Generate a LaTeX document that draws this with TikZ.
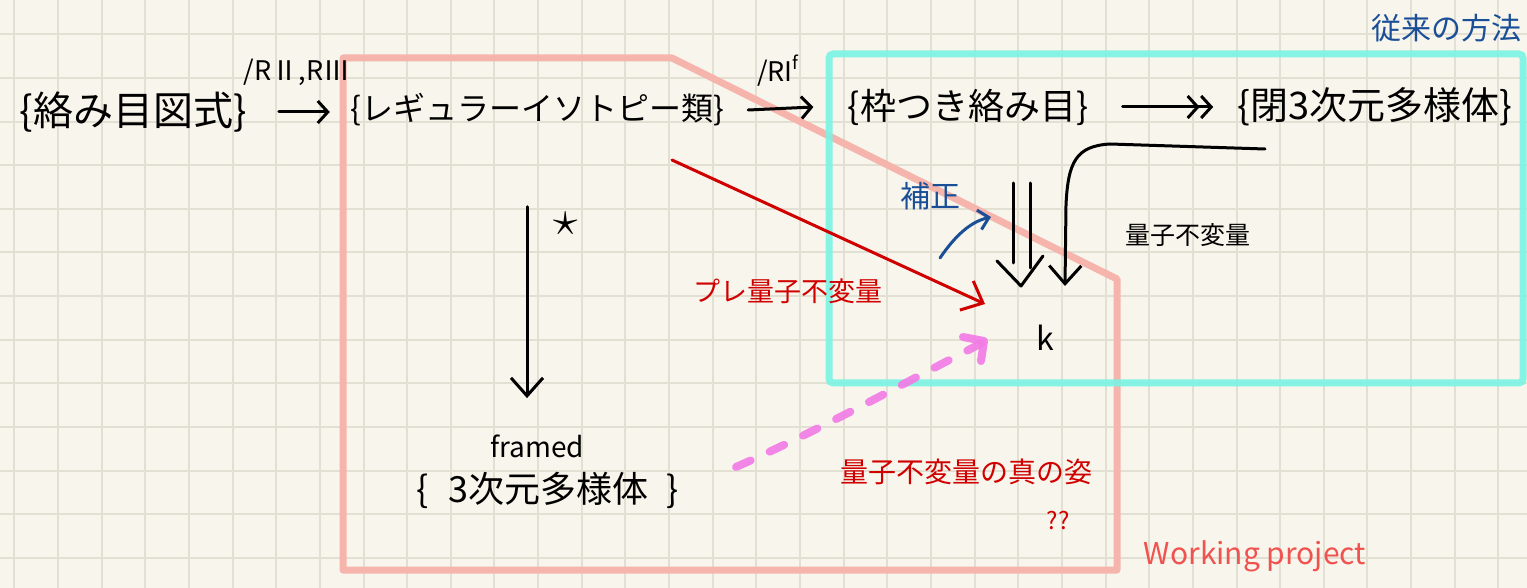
\documentclass[tikz,border=0pt]{standalone}
\usepackage{fontspec}
\newfontfamily\cjk{Noto Sans CJK JP}
\usetikzlibrary{arrows.meta}
\definecolor{paper}{HTML}{F8F6EC}
\definecolor{gridc}{HTML}{E2DFD3}
\definecolor{wpbox}{HTML}{F5B4AC}
\definecolor{oldbox}{HTML}{7AF4E4}
\definecolor{blueink}{HTML}{1A4F98}
\definecolor{redink}{HTML}{D00000}
\definecolor{magink}{HTML}{F27AE6}
\definecolor{wpink}{HTML}{F0524F}
\tikzset{
  gridline/.style={gridc, line width=1pt},
  txt/.style={inner sep=0pt, font=\cjk},
  ink/.style={line width=1.5pt, line cap=round, line join=round},
  barb/.style={-{Straight Barb[length=5pt,width=11pt,line width=1.5pt]}},
  bigbarb/.style={-{Straight Barb[length=9pt,width=16pt,line width=1.5pt]}},
}
\begin{document}
\begin{tikzpicture}[x=0.5pt,y=-0.5pt]
\fill[paper] (0,0) rectangle (1527,588);
\useasboundingbox (0,0) rectangle (1527,588);
% grid
\foreach \i in {0,...,34} \draw[gridline] ({14.3+43.65*\i},0) -- ({14.3+43.65*\i},588);
\foreach \j in {0,...,12} \draw[gridline] (0,{34.5+43.6*\j}) -- (1527,{34.5+43.6*\j});
% boxes
\draw[wpbox, line width=3.5pt, line join=round] (343,58) -- (672,58) -- (1117,279) -- (1117,570) -- (343,570) -- cycle;
\draw[oldbox, line width=3.5pt, opacity=0.9, rounded corners=2pt] (829,54) rectangle (1523,383);
% texts
\node[txt, font=\cjk\fontsize{15}{17}\selectfont, text=blueink] (old) at (1446,28) {従来の方法};
\node[txt, font=\cjk\fontsize{20}{22}\selectfont] (n1) at (133,112) {\{絡み目図式\}};
\node[txt, font=\cjk\fontsize{16}{18}\selectfont] (n2) at (537,110) {\{レギュラーイソトピー類\}};
\node[txt, font=\cjk\fontsize{18}{20}\selectfont] (n3) at (968,107) {\{枠つき絡み目\}};
\node[txt, font=\cjk\fontsize{19}{21}\selectfont] (n4) at (1375,107) {\{閉3次元多様体\}};
\node[txt, font=\cjk\fontsize{13.5}{15}\selectfont] (rm) at (297,72) {/RⅡ,RⅢ};
\node[txt, font=\cjk\fontsize{13.5}{15}\selectfont] (rf) at (778,71) {/RI\raisebox{6pt}{\fontsize{9}{9}\selectfont f}};
\node[txt, font=\cjk\fontsize{14}{16}\selectfont] (fr) at (537,446) {framed};
\node[txt, font=\cjk\fontsize{18}{20}\selectfont] (n5) at (548,490) {\{\hspace{10pt}3次元多様体\hspace{9pt}\}};
\node[txt, font=\cjk\fontsize{16}{18}\selectfont] (k) at (1045,338) {k};
\node[txt, font=\fontsize{30}{30}\selectfont] (star) at (566,224) {$\star$};
\node[txt, font=\cjk\fontsize{13.5}{15}\selectfont, text=redink] (pre) at (788,291) {プレ量子不変量};
\node[txt, font=\cjk\fontsize{15}{17}\selectfont, text=blueink] (hosei) at (930,196) {補正};
\node[txt, font=\cjk\fontsize{12.5}{14}\selectfont] (qi) at (1188,235) {量子不変量};
\node[txt, font=\cjk\fontsize{14}{16}\selectfont, text=redink] (true) at (966,472) {量子不変量の真の姿};
\node[txt, font=\cjk\fontsize{12}{14}\selectfont, text=redink] (qq) at (1058,521) {??};
\node[txt, font=\cjk\fontsize{15}{17}\selectfont, text=wpink] (wp) at (1255,556) {Working project};
% connectors
\draw[ink, barb] (n1.east) ++(32,0) coordinate (a1s) -- ([xshift=-10pt]n2.west |- a1s);
\draw[ink, barb] ([xshift=12pt]n2.east) -- ([xshift=-17pt]n3.west);
\draw[ink, -{Straight Barb[length=5pt,width=11pt,line width=1.5pt]Straight Barb[length=5pt,width=11pt,line width=1.5pt]}] ([xshift=17pt]n3.east) -- ([xshift=-12pt]n4.west);
\draw[ink, bigbarb] ([yshift=-40pt]n2.south -| 527,0) -- ([yshift=18pt]fr.north -| 527,0);
\coordinate (rs) at (672,160);
\coordinate (re) at (985,304);
\draw[ink, redink, bigbarb] (rs) -- (re);
\coordinate (bs) at (940,258);
\coordinate (be) at (991,217);
\draw[ink, blueink, -{Straight Barb[length=5pt,width=10pt,line width=1.5pt]}] (bs) .. controls (955,236) and (970,222) .. (be);
% double arrow (implies)
\coordinate (d1) at (1013,183);
\coordinate (d2) at (1030,183);
\draw[ink] (d1) -- (1013,263);
\draw[ink] (d2) -- (1030,268);
\draw[ink] (997,261) -- (1021,286) -- (1043,256);
% quantum invariant curve
\coordinate (cs) at (1265,149);
\coordinate (ce) at (1065,286);
\draw[ink, bigbarb] (cs) -- (1110,144) .. controls (1076,146) and (1068,162) .. (1066,205) -- (ce);
% magenta dashed arrow
\coordinate (ms) at (736,467);
\coordinate (me) at (984,342);
\draw[magink, line width=4pt, line cap=round, dash pattern=on 8pt off 10.5pt, opacity=0.9] (ms) .. controls (820,430) and (900,385) .. (me);
\draw[magink, line width=4pt, line cap=round, line join=round, opacity=0.9] (963,337) -- (984,341) -- (981,361);
\end{tikzpicture}
\end{document}
